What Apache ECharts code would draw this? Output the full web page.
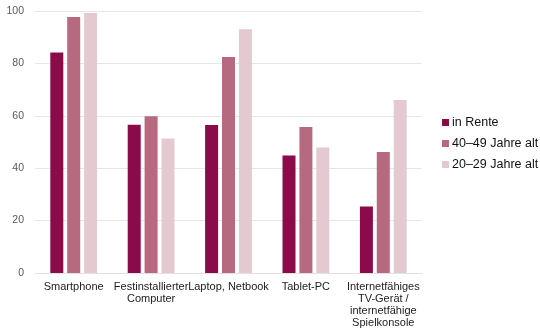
<!DOCTYPE html>
<html><head><meta charset="utf-8">
<script src="https://cdn.jsdelivr.net/npm/echarts@6/dist/echarts.min.js"></script>
<style>html,body{margin:0;padding:0;background:#fff}#c{width:540px;height:336px}</style>
</head><body><div id="c"></div>
<script>
const categories = ['Smartphone', 'Festinstallierter\nComputer', 'Laptop, Netbook', 'Tablet-PC', 'Internetfähiges\nTV-Gerät /\ninternetfähige\nSpielkonsole'];
const seriesNames = ['in Rente', '40–49 Jahre alt', '20–29 Jahre alt'];
const inRente = [84.2, 56.6, 56.5, 44.8, 25.4];
const jahre40 = [97.7, 59.8, 82.4, 55.7, 46.2];
const jahre20 = [99.2, 51.3, 93.0, 47.9, 66.0];
const colors = ['#8a0a4a', '#b7697f', '#e5c9d0'];

const chart = echarts.init(document.getElementById('c'), null, {renderer: 'canvas'});
const font = '"Liberation Sans", Arial, sans-serif';
chart.setOption({
  animation: false,
  color: colors,
  textStyle: {fontFamily: font},
  grid: {left: 35, right: 118, top: 11, bottom: 63},
  legend: {
    orient: 'vertical', left: 437, top: 111,
    itemWidth: 7, itemHeight: 7, itemGap: 8,
    icon: 'rect',
    textStyle: {fontSize: 12.5, color: '#111', fontFamily: font, padding: [0, 0, 0, -2]},
    data: seriesNames
  },
  xAxis: {
    type: 'category', data: categories,
    axisTick: {show: false},
    axisLine: {lineStyle: {color: '#e2e2e2', width: 1}},
    axisLabel: {interval: 0, fontSize: 11, color: '#222', lineHeight: 12, margin: 8, fontFamily: font}
  },
  yAxis: {
    type: 'value', min: 0, max: 100, interval: 20,
    axisLabel: {fontSize: 10.5, color: '#595959', margin: 11, fontFamily: font},
    splitLine: {lineStyle: {color: '#e6e6e6', width: 1}},
    axisLine: {show: false}, axisTick: {show: false}
  },
  series: [
    {name: seriesNames[0], type: 'bar', data: inRente, barWidth: 13, barGap: '30%'},
    {name: seriesNames[1], type: 'bar', data: jahre40, barWidth: 13, barGap: '30%'},
    {name: seriesNames[2], type: 'bar', data: jahre20, barWidth: 13, barGap: '30%'}
  ]
});
</script></body></html>
